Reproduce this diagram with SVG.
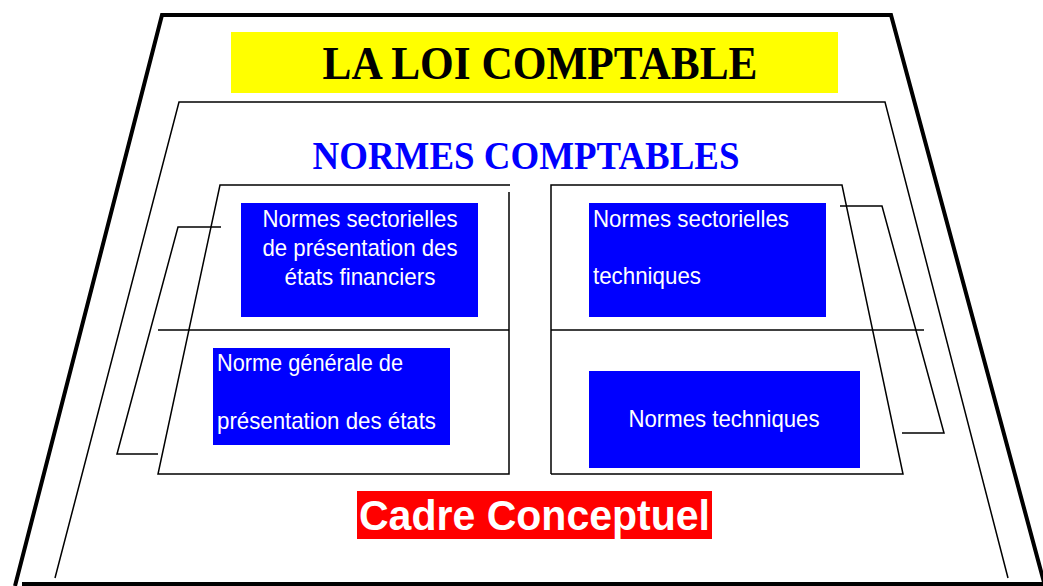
<svg xmlns="http://www.w3.org/2000/svg" width="1043" height="586" viewBox="0 0 1043 586">
<style>
.thick{fill:none;stroke:#000;stroke-width:4;stroke-linejoin:miter}
.thin{fill:none;stroke:#000;stroke-width:1.5}
.box{fill:#0000ff}
.bt{font-family:"Liberation Sans Narrow","Liberation Sans",Arial,sans-serif;font-size:24px;fill:#fff}
.title{font-family:"Liberation Serif","Times New Roman",serif;font-weight:bold}
</style>
<rect width="1043" height="586" fill="#fff"/>
<g id="frame">
<path class="thick" d="M15,586 L162,15 L891,15 L1045,586"/>
<line class="thick" x1="22" y1="584" x2="1043" y2="584"/>
<path class="thin" d="M55,578 L179,102 L885,102 L1008,578"/>
</g>
<g id="loi">
<rect x="231" y="32" width="607" height="61" fill="#ffff00"/>
<text class="title" x="540" y="79" font-size="47" text-anchor="middle" fill="#000" textLength="435" lengthAdjust="spacingAndGlyphs">LA LOI COMPTABLE</text>
</g>
<g id="normes">
<text class="title" x="526" y="169" font-size="39" text-anchor="middle" fill="#0000ff" textLength="427" lengthAdjust="spacingAndGlyphs">NORMES COMPTABLES</text>
</g>
<g id="left-panel">
<path class="thin" d="M510,185 L220,185 L158,474 L509,474 L509,192"/>
<line class="thin" x1="158" y1="330" x2="509" y2="330"/>
</g>
<g id="right-panel">
<path class="thin" d="M551,474 L551,185 L842,185 L903,474 L551,474"/>
<line class="thin" x1="551" y1="330" x2="924" y2="330"/>
</g>
<g id="connectors">
<path class="thin" d="M221,227 L178,227 L117,454 L158,454"/>
<path class="thin" d="M840,206 L882,206 L944,433 L902,433"/>
</g>
<g id="node-sect-pres">
<rect class="box" x="241" y="203" width="237" height="114"/>
<text class="bt" x="360" y="227" text-anchor="middle" textLength="195" lengthAdjust="spacingAndGlyphs">Normes sectorielles</text>
<text class="bt" x="360" y="256" text-anchor="middle" textLength="195" lengthAdjust="spacingAndGlyphs">de présentation des</text>
<text class="bt" x="360" y="285" text-anchor="middle" textLength="151" lengthAdjust="spacingAndGlyphs">états financiers</text>
</g>
<g id="node-generale">
<rect class="box" x="213" y="348" width="237" height="97"/>
<text class="bt" x="217" y="371" textLength="186" lengthAdjust="spacingAndGlyphs">Norme générale de</text>
<text class="bt" x="217" y="429" textLength="219" lengthAdjust="spacingAndGlyphs">présentation des états</text>
</g>
<g id="node-sect-tech">
<rect class="box" x="589" y="203" width="237" height="114"/>
<text class="bt" x="593" y="227" textLength="196" lengthAdjust="spacingAndGlyphs">Normes sectorielles</text>
<text class="bt" x="593" y="284" textLength="108" lengthAdjust="spacingAndGlyphs">techniques</text>
</g>
<g id="node-tech">
<rect class="box" x="589" y="371" width="271" height="97"/>
<text class="bt" x="724" y="427" text-anchor="middle" textLength="191" lengthAdjust="spacingAndGlyphs">Normes techniques</text>
</g>
<g id="node-cadre">
<rect x="357" y="491" width="355" height="48" fill="#ff0000"/>
<text x="534.5" y="530" font-family="'Liberation Sans',Arial,sans-serif" font-weight="bold" font-size="42" fill="#fff" text-anchor="middle" textLength="351" lengthAdjust="spacingAndGlyphs">Cadre Conceptuel</text>
</g>
</svg>
